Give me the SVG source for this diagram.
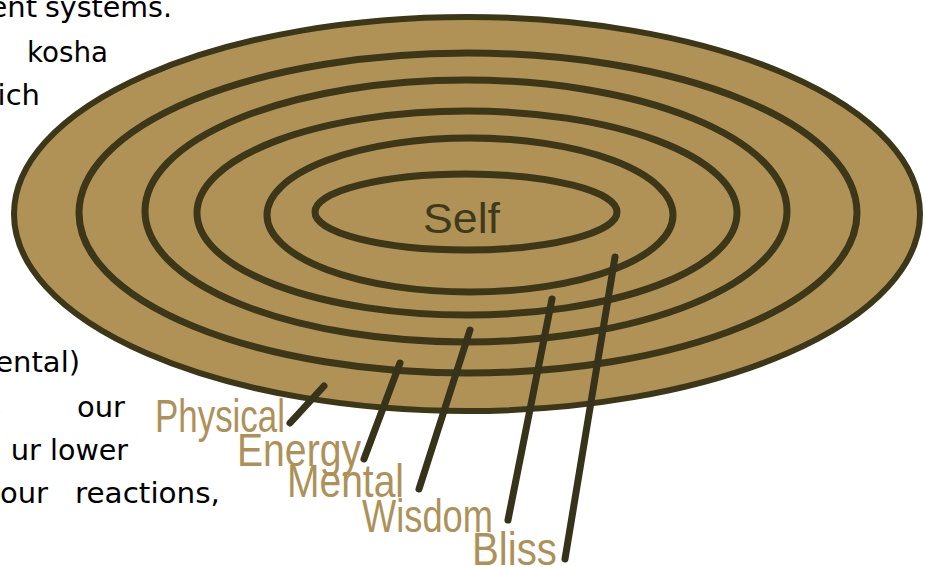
<svg xmlns="http://www.w3.org/2000/svg" width="925" height="567" viewBox="0 0 925 567">
<style>
.ring{fill:none;stroke:#3b3718;stroke-width:7}
.body{font-family:"DejaVu Sans",sans-serif;font-size:29px;fill:#000}
.lbl{font-family:"Liberation Sans",sans-serif;font-size:46px;fill:#ae9158}
.ptr{stroke:#37321a;stroke-width:7;stroke-linecap:round;fill:none}
</style>
<rect width="925" height="567" fill="#fff"/>
<g id="text-left">
<text class="body" x="37" y="17" text-anchor="end">ent</text>
<text class="body" x="45" y="17" textLength="127" lengthAdjust="spacingAndGlyphs">systems.</text>
<text class="body" x="27" y="62" textLength="81" lengthAdjust="spacingAndGlyphs">kosha</text>
<text class="body" x="40" y="105" text-anchor="end">ich</text>
<text class="body" x="80" y="372" text-anchor="end">ental)</text>
<text class="body" x="-14" y="417">s</text>
<text class="body" x="77" y="417" textLength="48" lengthAdjust="spacingAndGlyphs">our</text>
<text class="body" x="41" y="460" text-anchor="end">ur</text>
<text class="body" x="50" y="460" textLength="78" lengthAdjust="spacingAndGlyphs">lower</text>
<text class="body" x="48" y="503" text-anchor="end">our</text>
<text class="body" x="75" y="503" textLength="145" lengthAdjust="spacingAndGlyphs">reactions,</text>
</g>
<g id="physical">
<ellipse cx="467" cy="214" rx="453" ry="197" fill="#b09256" stroke="#3b3718" stroke-width="6"/>
<text class="lbl" x="155" y="432" textLength="130" lengthAdjust="spacingAndGlyphs">Physical</text>
</g>
<g id="energy">
<ellipse class="ring" cx="468" cy="213" rx="389" ry="160"/>
<text class="lbl" x="237" y="466" textLength="124" lengthAdjust="spacingAndGlyphs">Energy</text>
</g>
<g id="mental">
<ellipse class="ring" cx="466" cy="211" rx="321" ry="131"/>
<text class="lbl" x="287" y="497" textLength="117" lengthAdjust="spacingAndGlyphs">Mental</text>
</g>
<g id="wisdom">
<ellipse class="ring" cx="467" cy="213" rx="270" ry="102"/>
<text class="lbl" x="362" y="532" textLength="131" lengthAdjust="spacingAndGlyphs">Wisdom</text>
</g>
<g id="bliss">
<ellipse class="ring" cx="470" cy="215" rx="203" ry="77"/>
<text class="lbl" x="472" y="565" textLength="85" lengthAdjust="spacingAndGlyphs">Bliss</text>
</g>
<g id="self">
<ellipse class="ring" cx="466" cy="212" rx="151" ry="38"/>
<text x="423" y="233" textLength="77" lengthAdjust="spacingAndGlyphs" style="font-family:'Liberation Sans',sans-serif;font-size:42px;fill:#3e3a1c">Self</text>
</g>
<g id="connectors">
<line class="ptr" x1="324" y1="386" x2="290" y2="423"/>
<line class="ptr" x1="400" y1="363" x2="364" y2="459"/>
<line class="ptr" x1="470" y1="330" x2="419" y2="489"/>
<line class="ptr" x1="552" y1="299" x2="508" y2="520"/>
<line class="ptr" x1="615" y1="257" x2="565" y2="559"/>
</g>
</svg>
